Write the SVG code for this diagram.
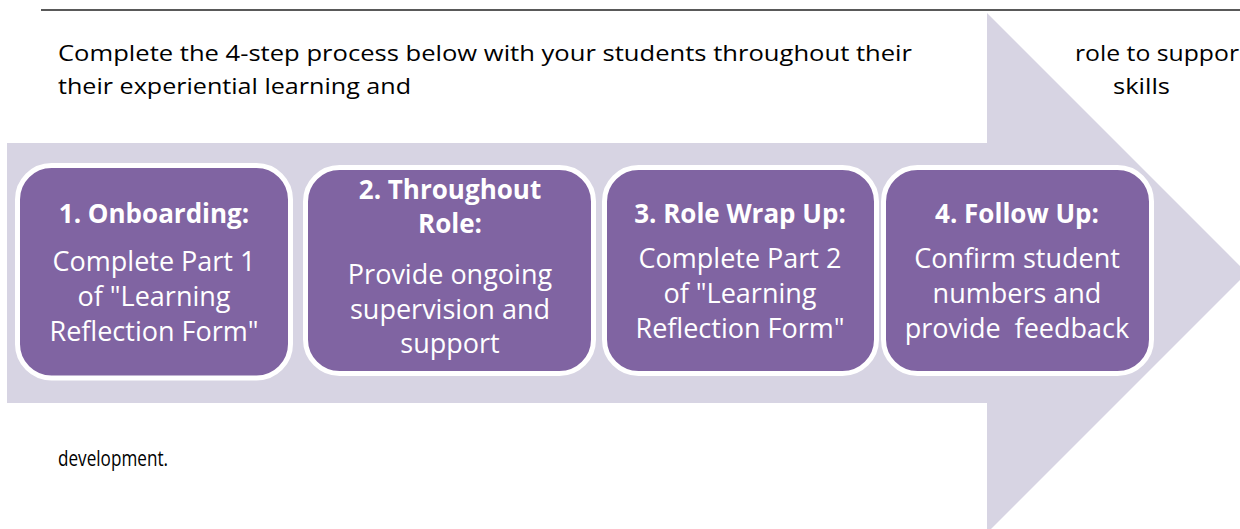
<svg xmlns="http://www.w3.org/2000/svg" width="1240" height="529" viewBox="0 0 1240 529">
  <style>
    .intro { font-family: "Open Sans", "Noto Sans", sans-serif; font-size: 22px; fill: #000000; }
    .step { fill: #8064a2; stroke: #ffffff; stroke-width: 5; }
    .title { font-family: "Open Sans", "Noto Sans", sans-serif; font-size: 26px; font-weight: bold; fill: #ffffff; text-anchor: middle; }
    .body { font-family: "Open Sans", "Noto Sans", sans-serif; font-size: 27px; fill: #ffffff; text-anchor: middle; }
  </style>

  <!-- page rule -->
  <line x1="41" y1="10" x2="1240" y2="10" stroke="#595959" stroke-width="2"/>

  <!-- background block arrow -->
  <path d="M7,143 H987 V13 L1247,273 L987,533 V403 H7 Z" fill="#d7d4e3"/>

  <!-- paragraph text -->
  <text class="intro" x="58" y="61" textLength="854" lengthAdjust="spacingAndGlyphs">Complete the 4-step process below with your students throughout their</text>
  <text class="intro" x="1075" y="61" textLength="164" lengthAdjust="spacingAndGlyphs">role to suppor</text>
  <text class="intro" x="58" y="94" textLength="353" lengthAdjust="spacingAndGlyphs">their experiential learning and</text>
  <text class="intro" x="1113" y="94" textLength="57" lengthAdjust="spacingAndGlyphs">skills</text>
  <text class="intro" x="58" y="466" textLength="110" lengthAdjust="spacingAndGlyphs">development.</text>

  <g id="connectors"></g>

  <g id="step1">
    <rect class="step" x="17.5" y="165.5" width="273" height="212.5" rx="34"/>
    <text class="title" x="154" y="223">1. Onboarding:</text>
    <text class="body" x="154" y="271">Complete Part 1</text>
    <text class="body" x="154" y="306">of "Learning</text>
    <text class="body" x="154" y="341">Reflection Form"</text>
  </g>

  <g id="step2">
    <rect class="step" x="305.5" y="167.5" width="288" height="206" rx="34"/>
    <text class="title" x="450" y="199">2. Throughout</text>
    <text class="title" x="450" y="233">Role:</text>
    <text class="body" x="450" y="284">Provide ongoing</text>
    <text class="body" x="450" y="319">supervision and</text>
    <text class="body" x="450" y="353">support</text>
  </g>

  <g id="step3">
    <rect class="step" x="604.5" y="167.5" width="272" height="206" rx="34"/>
    <text class="title" x="740" y="223">3. Role Wrap Up:</text>
    <text class="body" x="740" y="268">Complete Part 2</text>
    <text class="body" x="740" y="303">of "Learning</text>
    <text class="body" x="740" y="338">Reflection Form"</text>
  </g>

  <g id="step4">
    <rect class="step" x="883.5" y="167.5" width="268" height="206" rx="34"/>
    <text class="title" x="1017" y="223">4. Follow Up:</text>
    <text class="body" x="1017" y="268">Confirm student</text>
    <text class="body" x="1017" y="303">numbers and</text>
    <text class="body" x="1017" y="338" xml:space="preserve">provide  feedback</text>
  </g>
</svg>
